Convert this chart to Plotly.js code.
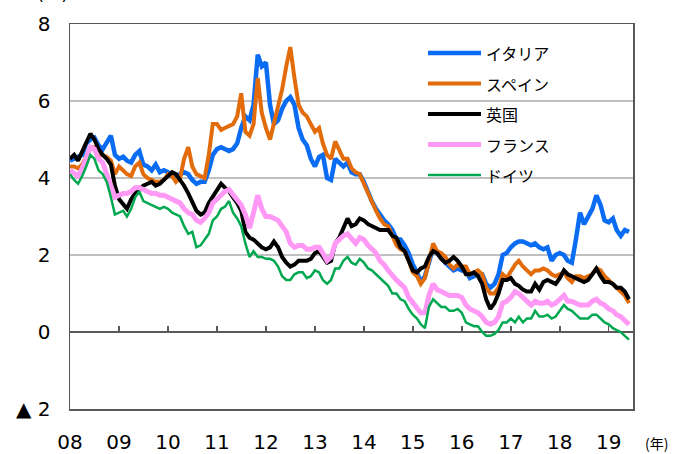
<!DOCTYPE html>
<html>
<head>
<meta charset="utf-8">
<script src="https://cdn.plot.ly/plotly-3.0.1.min.js"></script>
<style>html,body{margin:0;padding:0;background:#fff;}#chart{width:683px;height:454px;}</style>
</head>
<body>
<div id="chart"></div>
<script>
// Monthly observations, Jan 2008 .. Jun 2019 (10-year government bond yields, %)
const startYear = 2008;
const seriesNames = ["イタリア", "スペイン", "英国", "フランス", "ドイツ"];

const italy = [
 4.45,4.5,4.55,4.6,4.9,5.0,5.05,4.85,4.75,4.9,5.1,4.6,
 4.5,4.55,4.45,4.4,4.6,4.7,4.35,4.3,4.2,4.35,4.15,4.2,
 4.15,4.05,4.05,4.1,4.15,4.1,3.95,3.85,3.9,3.9,4.2,4.6,
 4.75,4.8,4.75,4.7,4.75,4.9,5.3,5.6,5.5,5.9,7.2,6.9,
 7.0,5.9,5.4,5.5,5.8,6.0,6.1,5.9,5.3,5.0,4.85,4.5,
 4.3,4.55,4.6,4.0,3.95,4.5,4.4,4.3,4.4,4.15,4.1,4.1,
 3.9,3.6,3.4,3.2,3.05,2.9,2.8,2.65,2.4,2.4,2.25,2.05,
 1.75,1.55,1.3,1.45,1.8,2.2,2.05,1.9,1.8,1.7,1.6,1.65,
 1.6,1.6,1.4,1.45,1.5,1.5,1.25,1.15,1.25,1.5,2.0,2.05,
 2.2,2.3,2.35,2.35,2.3,2.25,2.3,2.2,2.15,2.2,1.85,2.0,
 2.05,2.0,1.85,1.8,2.4,3.1,2.8,3.0,3.2,3.55,3.3,2.9,
 2.85,2.95,2.65,2.5,2.65,2.6
];
const spain = [
 4.3,4.3,4.25,4.35,4.55,4.8,4.8,4.6,4.6,4.55,4.45,4.1,
 4.3,4.2,4.1,4.05,4.3,4.4,4.1,4.0,3.95,3.9,3.9,3.95,
 4.1,4.05,3.9,4.0,4.5,4.8,4.3,4.1,4.05,4.0,4.6,5.4,
 5.4,5.25,5.3,5.35,5.4,5.6,6.2,5.2,5.1,5.4,6.6,5.7,
 5.3,5.0,5.4,5.9,6.3,6.9,7.4,6.6,5.9,5.7,5.6,5.4,
 5.2,5.3,4.9,4.6,4.5,4.95,4.7,4.5,4.5,4.25,4.15,4.1,
 3.85,3.6,3.35,3.15,2.95,2.8,2.75,2.5,2.25,2.15,2.1,1.85,
 1.55,1.45,1.25,1.4,1.85,2.3,2.1,2.05,1.95,1.75,1.65,1.75,
 1.7,1.7,1.5,1.55,1.6,1.5,1.15,1.0,1.0,1.15,1.5,1.4,
 1.6,1.75,1.85,1.7,1.6,1.5,1.6,1.6,1.65,1.6,1.5,1.45,
 1.5,1.55,1.4,1.3,1.45,1.45,1.4,1.45,1.5,1.65,1.6,1.45,
 1.35,1.25,1.15,1.05,0.95,0.75
];
const uk = [
 4.5,4.6,4.45,4.7,4.9,5.15,5.0,4.75,4.6,4.5,4.35,3.8,
 3.45,3.3,3.2,3.45,3.6,3.7,3.8,3.85,3.9,3.8,3.85,3.95,
 4.05,4.15,4.1,3.95,3.8,3.6,3.4,3.15,3.05,3.1,3.35,3.5,
 3.7,3.85,3.75,3.65,3.5,3.35,3.15,2.6,2.45,2.4,2.3,2.2,
 2.15,2.2,2.35,2.2,1.95,1.8,1.7,1.75,1.85,1.85,1.85,1.9,
 2.05,2.1,1.95,1.8,1.85,2.3,2.45,2.7,2.95,2.75,2.8,2.95,
 2.9,2.8,2.75,2.7,2.65,2.65,2.65,2.5,2.45,2.2,2.1,1.85,
 1.6,1.55,1.65,1.7,1.95,2.1,2.05,1.9,1.8,1.85,1.95,1.85,
 1.7,1.5,1.5,1.55,1.45,1.25,0.85,0.6,0.75,1.0,1.35,1.35,
 1.4,1.25,1.2,1.1,1.05,1.05,1.25,1.1,1.3,1.35,1.3,1.25,
 1.4,1.6,1.5,1.45,1.4,1.35,1.3,1.35,1.5,1.65,1.45,1.3,
 1.3,1.25,1.15,1.15,1.05,0.85
];
const france = [
 4.2,4.1,4.05,4.25,4.5,4.8,4.75,4.5,4.4,4.1,3.75,3.5,
 3.55,3.6,3.6,3.65,3.75,3.75,3.7,3.65,3.6,3.6,3.55,3.55,
 3.5,3.45,3.4,3.35,3.2,3.1,3.05,2.9,2.85,2.95,3.1,3.35,
 3.45,3.55,3.65,3.7,3.55,3.45,3.3,3.05,2.7,3.1,3.55,3.2,
 3.0,3.0,2.95,2.9,2.75,2.6,2.3,2.2,2.25,2.25,2.15,2.15,
 2.2,2.2,2.05,1.85,1.95,2.3,2.4,2.5,2.55,2.4,2.3,2.45,
 2.4,2.25,2.15,2.05,1.85,1.75,1.6,1.45,1.35,1.25,1.15,0.9,
 0.75,0.65,0.5,0.5,0.95,1.25,1.1,1.05,1.0,0.95,0.95,0.95,
 0.9,0.7,0.6,0.55,0.5,0.4,0.25,0.2,0.25,0.4,0.75,0.8,
 0.9,1.05,1.0,0.9,0.8,0.7,0.8,0.75,0.75,0.8,0.7,0.75,
 0.85,0.95,0.8,0.8,0.75,0.7,0.7,0.7,0.8,0.85,0.75,0.7,
 0.6,0.55,0.45,0.4,0.3,0.2
];
const germany = [
 4.1,3.95,3.85,4.05,4.3,4.6,4.5,4.2,4.1,3.9,3.5,3.05,
 3.1,3.15,3.0,3.2,3.5,3.65,3.4,3.35,3.3,3.25,3.2,3.25,
 3.2,3.1,3.05,3.0,2.75,2.55,2.6,2.2,2.25,2.4,2.55,2.9,
 3.0,3.2,3.25,3.4,3.1,2.95,2.75,2.3,1.95,2.1,1.95,1.95,
 1.9,1.9,1.85,1.7,1.45,1.35,1.35,1.5,1.55,1.55,1.4,1.45,
 1.6,1.55,1.35,1.25,1.35,1.65,1.65,1.85,1.95,1.8,1.75,1.9,
 1.8,1.65,1.6,1.5,1.4,1.3,1.2,1.0,1.0,0.85,0.8,0.6,
 0.45,0.35,0.2,0.1,0.65,0.85,0.75,0.65,0.65,0.55,0.55,0.6,
 0.5,0.25,0.2,0.15,0.15,0.0,-0.1,-0.1,-0.05,0.05,0.25,0.25,
 0.35,0.25,0.4,0.25,0.35,0.35,0.55,0.4,0.4,0.45,0.35,0.4,
 0.55,0.7,0.6,0.55,0.45,0.35,0.35,0.35,0.45,0.45,0.35,0.25,
 0.2,0.1,0.05,0.0,-0.1,-0.2
];

const xTickYears = [2008,2009,2010,2011,2012,2013,2014,2015,2016,2017,2018,2019];
const xTickLabels = ["08","09","10","11","12","13","14","15","16","17","18","19"];
const yTickVals = [-2,0,2,4,6,8];
const yTickLabels = ["▲ 2","0","2","4","6","8"];

// styles
const colors = ["#0A6CF2", "#E36C0A", "#000000", "#FF99F5", "#00A84F"];
const widths = [4.5, 4, 4, 5, 2.5];

function monthDates(n){
  const out=[];
  for(let i=0;i<n;i++){
    const y=startYear+Math.floor(i/12), m=(i%12)+1;
    out.push(y+"-"+(m<10?"0":"")+m+"-01");
  }
  return out;
}
const allSeries=[italy,spain,uk,france,germany];
const traces = allSeries.map((s,i)=>({
  type:"scatter", mode:"lines", name:seriesNames[i],
  x:monthDates(s.length), y:s,
  line:{color:colors[i], width:widths[i]},
  showlegend:false, hoverinfo:"skip"
}));
// empty trace to host the zero-line tick axis
traces.push({type:"scatter", mode:"lines", x:[], y:[], xaxis:"x2", yaxis:"y", showlegend:false});

const tickDates = xTickYears.map(y=>y+"-01-01");
const xRange = ["2008-01-01","2019-07-01"];
const axisFont = {family:"DejaVu Sans, Verdana, sans-serif", size:20, color:"#000"};
const jpFont = {family:"Noto Sans CJK JP, sans-serif", size:16, color:"#000"};

// manual legend (longer line samples as in reference)
const L = 70, R = 633, T = 24, B = 409;
const px = v => (v - L)/(R - L);
const py = v => (B - v)/(B - T);
const shapes = [{
  type:"rect", xref:"paper", yref:"paper", layer:"between",
  x0:px(406), x1:px(572), y0:py(192), y1:py(37),
  fillcolor:"#ffffff", line:{width:0}
}];
const annotations = [];
seriesNames.forEach((n,i)=>{
  const yy = 53 + i*30.5;
  shapes.push({type:"line", xref:"paper", yref:"paper", layer:"above",
    x0:px(428), x1:px(481), y0:py(yy), y1:py(yy),
    line:{color:colors[i], width:widths[i]}});
  annotations.push({xref:"paper", yref:"paper", x:px(484), y:py(yy),
    xanchor:"left", yanchor:"middle", text:n, showarrow:false, font:jpFont});
});
annotations.push({xref:"paper", yref:"paper", x:px(52), y:py(6), xanchor:"center", yanchor:"bottom",
  text:"(%)", showarrow:false, font:{family:"DejaVu Sans, sans-serif", size:18, color:"#000"}});
annotations.push({xref:"paper", yref:"paper", x:px(656), y:py(443), xanchor:"center", yanchor:"middle",
  text:"(年)", showarrow:false, font:{family:"Noto Sans CJK JP, sans-serif", size:14, color:"#000"}});

const layout = {
  width:683, height:454,
  margin:{l:L, r:683-R, t:T, b:454-B, pad:0},
  paper_bgcolor:"#fff", plot_bgcolor:"#fff",
  showlegend:false,
  xaxis:{type:"date", range:xRange, tickvals:tickDates, ticktext:xTickLabels,
    ticks:"", showgrid:false, zeroline:false,
    showline:true, linecolor:"#595959", linewidth:1.5, mirror:true,
    tickfont:axisFont, ticklabelstandoff:14},
  xaxis2:{type:"date", range:xRange, overlaying:"x", anchor:"free", position:0.2,
    side:"bottom", tickvals:tickDates, ticks:"inside", ticklen:6, tickwidth:1.5, tickcolor:"#595959",
    showticklabels:false, showgrid:false, zeroline:false, showline:false},
  yaxis:{range:[-2,8], tickvals:yTickVals, ticktext:yTickLabels, ticks:"",
    showgrid:true, gridcolor:"#C0C0C0", gridwidth:1.5,
    zeroline:true, zerolinecolor:"#595959", zerolinewidth:1.5,
    showline:true, linecolor:"#595959", linewidth:1.5, mirror:true,
    tickfont:axisFont, ticklabelstandoff:14},
  shapes:shapes, annotations:annotations
};
Plotly.newPlot("chart", traces, layout, {staticPlot:true, displayModeBar:false});
</script>
</body>
</html>
